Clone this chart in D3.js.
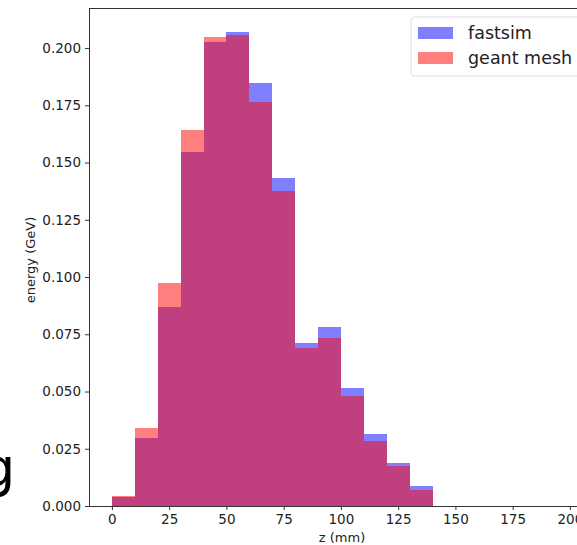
<!DOCTYPE html>
<html>
<head>
<meta charset="utf-8">
<script src="https://cdn.jsdelivr.net/npm/d3@7"></script>
<style>
  body { margin: 0; background: #fff; }
  text { font-family: "DejaVu Sans", sans-serif; }
</style>
</head>
<body>
<div id="chart"></div>
<script>
// bins of 10 mm from 0 to 200
const binStarts = d3.range(0, 200, 10);
const binWidth = 10;
const fastsim = [0.0038, 0.0298, 0.0870, 0.1547, 0.2028, 0.2071, 0.1846, 0.1431, 0.0713, 0.0780,
                 0.0514, 0.0314, 0.0189, 0.0089, 0, 0, 0, 0, 0, 0];
const geantMesh = [0.0045, 0.0342, 0.0974, 0.1642, 0.2049, 0.2057, 0.1766, 0.1377, 0.0691, 0.0735,
                   0.0482, 0.0285, 0.0176, 0.0070, 0, 0, 0, 0, 0, 0];
const xTicks = [0, 25, 50, 75, 100, 125, 150, 175, 200];
const yTicks = [0, 0.025, 0.05, 0.075, 0.1, 0.125, 0.15, 0.175, 0.2];
const seriesNames = ["fastsim", "geant mesh"];
const seriesColors = ["#0000ff", "#ff0000"];

const W = 577, H = 545;
const svg = d3.select("#chart").append("svg")
    .attr("width", W)
    .attr("height", H);

svg.append("rect").attr("width", W).attr("height", H).attr("fill", "#fff");

const x = d3.scaleLinear().domain([-10, 210]).range([89, 592.8]);
const y = d3.scaleLinear().domain([0, 0.2175]).range([506, 8]);

svg.append("defs").append("clipPath")
    .attr("id", "clip-ax")
    .append("rect")
    .attr("x", x(-10)).attr("y", y(0.2175))
    .attr("width", x(210) - x(-10)).attr("height", y(0) - y(0.2175));

const plot = svg.append("g").attr("clip-path", "url(#clip-ax)");

[fastsim, geantMesh].forEach((vals, s) => {
    plot.append("g")
        .selectAll("rect")
        .data(binStarts.map((b, i) => ({ x0: b, x1: b + binWidth, v: vals[i] })))
        .join("rect")
        .attr("x", d => x(d.x0))
        .attr("width", d => x(d.x1) - x(d.x0))
        .attr("y", d => y(d.v))
        .attr("height", d => y(0) - y(d.v))
        .attr("fill", seriesColors[s])
        .attr("fill-opacity", 0.5)
        .attr("shape-rendering", "crispEdges");
});

// axes
const xAxis = d3.axisBottom(x).tickValues(xTicks).tickSize(4).tickPadding(4).tickFormat(d3.format("d"));
const yAxis = d3.axisLeft(y).tickValues(yTicks).tickSize(4).tickPadding(4).tickFormat(d3.format(".3f"));

const gx = svg.append("g").attr("transform", `translate(0,${y(0)})`).call(xAxis);
const gy = svg.append("g").attr("transform", `translate(${x(-10)},0)`).call(yAxis);

[gx, gy].forEach(g => {
    g.select(".domain").remove();
    g.selectAll(".tick line").attr("stroke", "#333").attr("stroke-width", 1);
    g.selectAll(".tick text")
        .attr("fill", "#222")
        .attr("font-family", "DejaVu Sans, sans-serif")
        .attr("font-size", 13.5);
});

// spines
svg.append("rect")
    .attr("x", x(-10)).attr("y", y(0.2175))
    .attr("width", x(210) - x(-10)).attr("height", y(0) - y(0.2175))
    .attr("fill", "none")
    .attr("stroke", "#333")
    .attr("stroke-width", 1)
    .attr("shape-rendering", "crispEdges");

// axis labels
svg.append("text")
    .attr("x", 342)
    .attr("y", 542)
    .attr("text-anchor", "middle")
    .attr("font-size", 13)
    .attr("fill", "#222")
    .text("z (mm)");

svg.append("text")
    .attr("transform", "translate(35,260) rotate(-90)")
    .attr("text-anchor", "middle")
    .attr("font-size", 13)
    .attr("fill", "#222")
    .text("energy (GeV)");

// legend
const leg = svg.append("g");
leg.append("rect")
    .attr("x", 411).attr("y", 17)
    .attr("width", 200).attr("height", 59)
    .attr("rx", 3)
    .attr("fill", "#fff").attr("fill-opacity", 0.8)
    .attr("stroke", "#ddd");
seriesNames.forEach((name, i) => {
    leg.append("rect")
        .attr("x", 418).attr("y", 27 + i * 25)
        .attr("width", 35).attr("height", 12)
        .attr("fill", seriesColors[i]).attr("fill-opacity", 0.5);
    leg.append("text")
        .attr("x", 468).attr("y", 39 + i * 25)
        .attr("font-size", 17.5)
        .attr("fill", "#222")
        .text(name);
});

// stray slide letter at left edge
svg.append("text")
    .attr("x", -19).attr("y", 486)
    .attr("font-family", "Liberation Sans, Arial, sans-serif")
    .attr("font-size", 54)
    .attr("fill", "#000")
    .text("g");
</script>
</body>
</html>
